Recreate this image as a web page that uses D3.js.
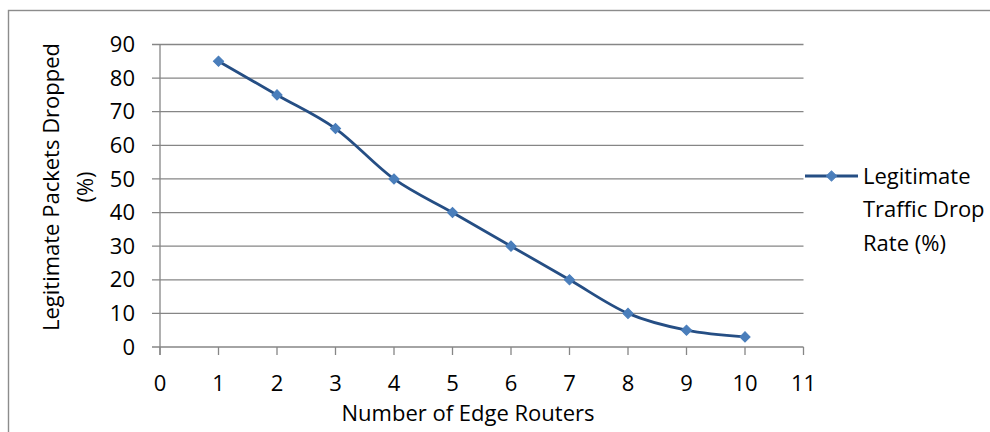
<!DOCTYPE html>
<html><head><meta charset="utf-8">
<script src="https://cdn.jsdelivr.net/npm/d3@7"></script>
<style>html,body{margin:0;padding:0;background:#fff;overflow:hidden}</style>
</head><body>
<svg id="c" width="990" height="432"></svg>
<script>
const routers = [1,2,3,4,5,6,7,8,9,10];
const dropRate = [85,75,65,50,40,30,20,10,5,3];
const xTicks = [0,1,2,3,4,5,6,7,8,9,10,11];
const yTicks = [0,10,20,30,40,50,60,70,80,90];
const seriesName = ["Legitimate", "Traffic Drop", "Rate (%)"];
const yTitle = ["Legitimate Packets Dropped", "(%)"];
const xTitle = "Number of Edge Routers";

const svg = d3.select("#c");
const font = "'Open Sans', 'Noto Sans', sans-serif";
const fs = 22;
const grid = "#868686";

svg.append("rect").attr("x",8.5).attr("y",10.5).attr("width",1100).attr("height",500)
  .attr("fill","#fff").attr("stroke","#8c8c8c").attr("stroke-width",1.4);

const x = d3.scaleLinear().domain([0,11]).range([160,803.5]);
const y = d3.scaleLinear().domain([0,90]).range([347,44.5]);

// gridlines
svg.append("g").selectAll("line").data(yTicks).join("line")
  .attr("x1",152).attr("x2",x(11)).attr("y1",d=>y(d)).attr("y2",d=>y(d))
  .attr("stroke",grid).attr("stroke-width",1.3);
// y axis line
svg.append("line").attr("x1",x(0)).attr("x2",x(0)).attr("y1",y(90)).attr("y2",355)
  .attr("stroke",grid).attr("stroke-width",1.3);
// x ticks
svg.append("g").selectAll("line").data(xTicks).join("line")
  .attr("x1",d=>x(d)).attr("x2",d=>x(d)).attr("y1",y(0)).attr("y2",355)
  .attr("stroke",grid).attr("stroke-width",1.3);

// tick labels
svg.append("g").selectAll("text").data(yTicks).join("text")
  .attr("x",135).attr("y",d=>y(d)).attr("dy","0.35em").attr("text-anchor","end")
  .attr("font-family",font).attr("font-size",fs).attr("fill","#000").text(d=>d);
svg.append("g").selectAll("text").data(xTicks).join("text")
  .attr("x",d=>x(d)).attr("y",383).attr("dy","0.35em").attr("text-anchor","middle")
  .attr("font-family",font).attr("font-size",fs).attr("fill","#000").text(d=>d);

// axis titles
svg.append("text").attr("x",468).attr("y",413).attr("dy","0.35em").attr("text-anchor","middle")
  .attr("font-family",font).attr("font-size",fs).attr("fill","#000").text(xTitle);
const yt = svg.append("text").attr("transform","translate(59,187) rotate(-90)")
  .attr("text-anchor","middle").attr("font-family",font).attr("font-size",fs).attr("fill","#000");
yTitle.forEach((t,i)=>yt.append("tspan").attr("x",0).attr("y",i*33.5).text(t));

// line
const data = routers.map((r,i)=>({x:r,y:dropRate[i]}));
const line = d3.line().x(d=>x(d.x)).y(d=>y(d.y)).curve(d3.curveCatmullRom.alpha(0));
svg.append("path").datum(data).attr("d",line).attr("fill","none")
  .attr("stroke","#254e84").attr("stroke-width",2.8);
svg.append("g").selectAll("path").data(data).join("path")
  .attr("transform",d=>`translate(${x(d.x)},${y(d.y)}) rotate(45)`)
  .attr("d",d3.symbol().type(d3.symbolSquare).size(52))
  .attr("fill","#4a7ebb").attr("stroke","#4a7ebb").attr("stroke-width",1);

// legend
const ly = 176;
svg.append("line").attr("x1",805).attr("x2",858).attr("y1",ly).attr("y2",ly)
  .attr("stroke","#254e84").attr("stroke-width",2.8);
svg.append("path").attr("transform",`translate(831.5,${ly}) rotate(45)`)
  .attr("d",d3.symbol().type(d3.symbolSquare).size(52))
  .attr("fill","#4a7ebb").attr("stroke","#4a7ebb").attr("stroke-width",1);
svg.append("g").selectAll("text").data(seriesName).join("text")
  .attr("x",863).attr("y",(d,i)=>ly+i*33.5).attr("dy","0.35em")
  .attr("font-family",font).attr("font-size",fs).attr("fill","#000").text(d=>d);
</script>
</body></html>
